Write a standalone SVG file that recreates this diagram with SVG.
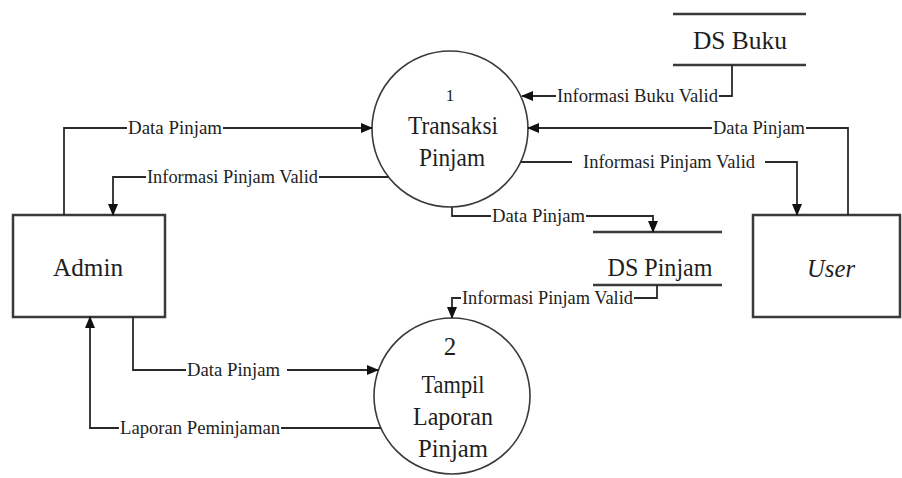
<svg xmlns="http://www.w3.org/2000/svg" width="902" height="478" viewBox="0 0 902 478" font-family="Liberation Serif, Times New Roman, DejaVu Serif, serif">
  <style>
    text { fill: #1e1e1e; }
    .node { text-anchor: middle; font-size: 25px; }
    .lbl { font-size: 18px; }
    .box { fill: #fff; stroke: #3a3a3a; stroke-width: 2.5; }
    .proc { fill: #fff; stroke: #3a3a3a; stroke-width: 1.6; }
    .store { stroke: #3a3a3a; stroke-width: 2.5; }
    .flow { fill: none; stroke: #2a2a2a; stroke-width: 1.8; }
  </style>
  <defs>
    <marker id="arrow" markerUnits="userSpaceOnUse" markerWidth="12" markerHeight="10" refX="11" refY="5" orient="auto">
      <path d="M0,0 L12,5 L0,10 z" fill="#111"/>
    </marker>
  </defs>
  <rect width="902" height="478" fill="#fff"/>

  <!-- Processes -->
  <g id="proc1">
    <circle class="proc" cx="450" cy="129" r="78"/>
    <text class="node" x="450" y="101" style="font-size:17px">1</text>
    <text class="node" x="453" y="134" textLength="90" lengthAdjust="spacingAndGlyphs">Transaksi</text>
    <text class="node" x="452" y="166" textLength="66" lengthAdjust="spacingAndGlyphs">Pinjam</text>
  </g>
  <g id="proc2">
    <circle class="proc" cx="452" cy="396" r="78"/>
    <text class="node" x="450" y="355">2</text>
    <text class="node" x="453" y="393" textLength="63" lengthAdjust="spacingAndGlyphs">Tampil</text>
    <text class="node" x="453" y="425" textLength="80" lengthAdjust="spacingAndGlyphs">Laporan</text>
    <text class="node" x="453" y="457" textLength="70" lengthAdjust="spacingAndGlyphs">Pinjam</text>
  </g>

  <!-- External entities -->
  <g id="admin">
    <rect class="box" x="13" y="215" width="152" height="102"/>
    <text class="node" x="88" y="276" textLength="70" lengthAdjust="spacingAndGlyphs">Admin</text>
  </g>
  <g id="user">
    <rect class="box" x="753" y="215" width="147" height="102"/>
    <text class="node" x="831" y="277" font-style="italic" textLength="48" lengthAdjust="spacingAndGlyphs">User</text>
  </g>

  <!-- Data stores -->
  <g id="ds-buku">
    <line class="store" x1="673" y1="14" x2="806" y2="14"/>
    <line class="store" x1="673" y1="65" x2="806" y2="65"/>
    <text class="node" x="740" y="49" textLength="94" lengthAdjust="spacingAndGlyphs">DS Buku</text>
  </g>
  <g id="ds-pinjam">
    <line class="store" x1="593" y1="232" x2="722" y2="232"/>
    <line class="store" x1="593" y1="285" x2="722" y2="285"/>
    <text class="node" x="660" y="276" textLength="105" lengthAdjust="spacingAndGlyphs">DS Pinjam</text>
  </g>

  <!-- Data flows -->
  <g id="connectors">
    <path class="flow" d="M64,215 V128 H127"/>
    <path class="flow" d="M223,128 H372" marker-end="url(#arrow)"/>
    <text class="lbl" x="128" y="134" textLength="94" lengthAdjust="spacingAndGlyphs">Data Pinjam</text>

    <path class="flow" d="M389,177 H319"/>
    <path class="flow" d="M146,177 H113 V215" marker-end="url(#arrow)"/>
    <text class="lbl" x="147" y="183" textLength="171" lengthAdjust="spacingAndGlyphs">Informasi Pinjam Valid</text>

    <path class="flow" d="M732,65 V96 H719"/>
    <path class="flow" d="M556,96 H522" marker-end="url(#arrow)"/>
    <text class="lbl" x="557" y="102" textLength="161" lengthAdjust="spacingAndGlyphs">Informasi Buku Valid</text>

    <path class="flow" d="M848,215 V128 H806"/>
    <path class="flow" d="M712,128 H528" marker-end="url(#arrow)"/>
    <text class="lbl" x="713" y="134" textLength="92" lengthAdjust="spacingAndGlyphs">Data Pinjam</text>

    <path class="flow" d="M521,162 H572"/>
    <path class="flow" d="M765,162 H797 V215" marker-end="url(#arrow)"/>
    <text class="lbl" x="583" y="168" textLength="172" lengthAdjust="spacingAndGlyphs">Informasi Pinjam Valid</text>

    <path class="flow" d="M452,207 V216 H491"/>
    <path class="flow" d="M586,216 H653 V232" marker-end="url(#arrow)"/>
    <text class="lbl" x="492" y="222" textLength="93" lengthAdjust="spacingAndGlyphs">Data Pinjam</text>

    <path class="flow" d="M657,285 V298 H634"/>
    <path class="flow" d="M461,298 H452 V318" marker-end="url(#arrow)"/>
    <text class="lbl" x="462" y="304" textLength="171" lengthAdjust="spacingAndGlyphs">Informasi Pinjam Valid</text>

    <path class="flow" d="M133,317 V370 H186"/>
    <path class="flow" d="M287,370 H378" marker-end="url(#arrow)"/>
    <text class="lbl" x="187" y="376" textLength="93" lengthAdjust="spacingAndGlyphs">Data Pinjam</text>

    <path class="flow" d="M381,428 H281"/>
    <path class="flow" d="M119,428 H90 V317" marker-end="url(#arrow)"/>
    <text class="lbl" x="120" y="434" textLength="160" lengthAdjust="spacingAndGlyphs">Laporan Peminjaman</text>
  </g>
</svg>
